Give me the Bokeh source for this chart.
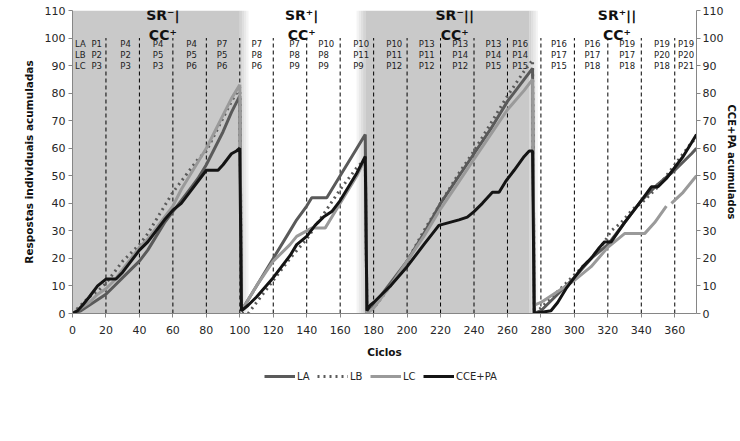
import numpy as np
from bokeh.plotting import figure
from bokeh.layouts import column
from bokeh.models import Range1d, LinearAxis, Legend, LegendItem, FixedTicker
from bokeh.core.properties import value
from bokeh.embed import file_html
from bokeh.resources import INLINE

nan = float("nan")

# ---------------- data ----------------
la_x = [0, 5, 10, 15, 20, 25, 30, 35, 40, 45, 50, 55, 60, 65, 70, 75, 80, 85, 90, 95, 100,
        101, 110, 120, 130, 134, 140, 143, 152, 160, 170, 175,
        176, 180, 190, 200, 210, 220, 230, 240, 250, 260, 270, 275,
        276, 280, 290, 300, 310, 320, 330, 340, 350, 360, 370, 373]
la_y = [0, 1, 3, 5, 7, 10, 13, 16, 19, 23, 28, 33, 37, 41, 45, 49, 54, 60, 66, 73, 79,
        1, 10, 20, 30, 34, 39, 42, 42, 50, 60, 65,
        0, 3, 11, 19, 29, 40, 49, 58, 67, 77, 85, 89,
        0, 1, 7, 13, 20, 25, 33, 41, 47, 52, 58, 60]

lb_x = [0, 5, 10, 15, 20, 25, 30, 35, 40, 45, 50, 55, 60, 65, 70, 75, 80, 85, 90, 95, 100,
        101, 105, 110, 120, 130, 140, 150, 160, 170, 175,
        176, 180, 190, 200, 210, 220, 230, 240, 250, 260, 270, 275,
        276, 280, 290, 300, 310, 318, 322, 328, 335, 340, 345, 350, 360, 370, 373]
lb_y = [0, 3, 6, 8, 11, 15, 19, 22, 25, 29, 34, 39, 44, 48, 52, 56, 59, 65, 71, 77, 82,
        0, 0, 4, 12, 20, 27, 36, 45, 53, 56,
        0, 2, 10, 19, 30, 40, 50, 59, 69, 79, 88, 92,
        0, 2, 8, 14, 20, 26, 30, 33, 38, 40, 43, 46, 54, 62, 64]

lc_x = [0, 5, 10, 15, 20, 25, 30, 35, 40, 45, 50, 55, 60, 65, 70, 75, 80, 85, 90, 95, 100,
        101, 110, 120, 130, 134, 140, 143, 151, 160, 170, 174, 175,
        176, 180, 190, 200, 210, 220, 230, 240, 250, 260, 270, 275,
        276, 280, 290, 300, 310, 320, 330, 342, 348, 355, 356, 358, 365, 373]
lc_y = [0, 2, 4, 7, 9, 12, 16, 20, 24, 27, 31, 35, 39, 45, 50, 55, 60, 66, 72, 78, 83,
        1, 10, 19, 25, 28, 30, 31, 31, 40, 50, 55, 56,
        0, 2, 10, 19, 28, 38, 47, 56, 65, 74, 81, 85,
        3, 4, 8, 12, 17, 24, 29, 29, 33, 39, nan, 40, 44, 50]

cce_x = [0, 3, 6, 10, 15, 20, 26, 30, 35, 40, 45, 50, 55, 60, 65, 70, 75, 80, 87, 90, 95, 98, 100,
         101, 105, 110, 120, 130, 134, 140, 145, 150, 155, 160, 165, 170, 175,
         176, 178, 180, 190, 200, 210, 219, 225, 231, 236, 240, 245, 251, 255, 259, 264, 270, 273, 275,
         276, 286, 290, 295, 300, 305, 310, 315, 318, 322, 330, 335, 340, 346, 350, 355, 360, 365, 370, 373]
cce_y = [0, 1, 3, 6, 10, 12.5, 12.5, 15, 19, 23, 26, 30, 34, 37.5, 40, 44, 48, 52, 52, 54, 58, 59, 60,
         1, 3, 6, 13, 21, 25, 28, 32, 35, 37, 41, 46, 51, 57,
         1, 3, 4, 10, 17, 25, 32, 33, 34, 35, 37, 40, 44, 44, 48, 52, 57, 59, 59,
         0, 1, 4, 9, 13, 17, 20, 24, 26, 26, 33, 37, 41, 46, 46, 49, 53, 57, 62, 65]

dash_x = list(range(20, 361, 20))

phase_labels = ["SR\u207b|", "SR\u207a|", "SR\u207b||", "SR\u207a||"]
cc_label = "CC\u207a"

col_row1 = ["LA", "P1", "P4", "P4", "P4", "P7", "P7", "P7", "P10", "P10",
            "P10", "P13", "P13", "P13", "P16", "P16", "P16", "P19", "P19", "P19"]
col_row2 = ["LB", "P2", "P2", "P5", "P5", "P5", "P8", "P8", "P8", "P11",
            "P11", "P11", "P14", "P14", "P14", "P17", "P17", "P17", "P20", "P20"]
col_row3 = ["LC", "P3", "P3", "P3", "P6", "P6", "P6", "P9", "P9", "P9",
            "P12", "P12", "P12", "P15", "P15", "P15", "P18", "P18", "P18", "P21"]

series_names = ["LA", "LB", "LC", "CCE+PA"]
series_x = [la_x, lb_x, lc_x, cce_x]
series_y = [la_y, lb_y, lc_y, cce_y]

# ---------------- layout constants ----------------
col_pos = [1.5, 11.3, 28.6, 48, 68, 86.3, 107, 129.6, 146.9, 167.8,
           187.6, 207, 227, 246.9, 262.8, 286, 306, 326.8, 347.6, 362]
title_pos = [54, 137, 228.5, 325.5]

GRAY_BG = "#c9c9c9"
STYLES = [dict(line_color="#5a5a5a", line_width=3),
          dict(line_color="#5a5a5a", line_width=3, line_dash="dotted"),
          dict(line_color="#9a9a9a", line_width=3),
          dict(line_color="#141414", line_width=3)]

p = figure(width=740, height=365, x_range=Range1d(0, 373), y_range=Range1d(0, 110),
           output_backend="svg", toolbar_location=None,
           min_border_left=72, min_border_right=43, min_border_top=10, min_border_bottom=52)
p.extra_y_ranges = {"right": Range1d(0, 110)}
p.xgrid.visible = False
p.ygrid.visible = False
p.outline_line_color = None
p.background_fill_color = "white"

# shaded phases
p.quad(left=[0, 175], right=[100, 273], bottom=0, top=110, fill_color=GRAY_BG, line_color=None)
fade = [0.8, 0.6, 0.4, 0.2]
for i, a in enumerate(fade):
    w = 1.3
    p.quad(left=[100 + i * w, 175 - (i + 1) * w, 273 + i * w],
           right=[100 + (i + 1) * w, 175 - i * w, 273 + (i + 1) * w],
           bottom=0, top=110, fill_color=GRAY_BG, fill_alpha=a, line_color=None)

# dashed separators
p.segment(x0=dash_x, y0=0, x1=dash_x, y1=100, line_color="black", line_width=1, line_dash="4 3")

# period labels
FONT = value("DejaVu Sans")
for ys, txt in zip([97.8, 93.8, 89.7], [col_row1, col_row2, col_row3]):
    p.text(x=col_pos, y=[ys] * len(col_pos), text=txt, text_font=FONT, text_font_size="8.5px",
           text_color="#222222", text_baseline="middle", text_align="left")

p.text(x=title_pos, y=[108.5] * 4, text=phase_labels, text_font=FONT, text_font_size="14px",
       text_font_style="bold", text_color="#111111", text_baseline="middle", text_align="center")
p.text(x=title_pos, y=[101] * 4, text=[cc_label] * 4, text_font=FONT, text_font_size="14px",
       text_font_style="bold", text_color="#111111", text_baseline="middle", text_align="center")

# series
p.line(la_x, la_y, **STYLES[0])
p.line(lb_x, lb_y, **STYLES[1])
p.line(lc_x, lc_y, **STYLES[2])
p.line(cce_x, cce_y, y_range_name="right", **STYLES[3])

# axes
right_axis = LinearAxis(y_range_name="right", axis_label="CCE+PA acumulados")
p.add_layout(right_axis, "right")

p.xaxis.ticker = FixedTicker(ticks=list(range(0, 361, 20)))
for ax in p.yaxis:
    ax.ticker = FixedTicker(ticks=list(range(0, 111, 10)))
p.yaxis[0].axis_label = "Respostas individuais acumuladas"
p.xaxis.axis_label = "Ciclos"

for ax in list(p.xaxis) + list(p.yaxis):
    ax.axis_line_color = "#868686"
    ax.major_tick_line_color = "#868686"
    ax.major_tick_out = 4
    ax.major_tick_in = 0
    ax.minor_tick_line_color = None
    ax.major_label_text_font = "DejaVu Sans"
    ax.major_label_text_font_size = "11px"
    ax.major_label_text_color = "#262626"
    ax.axis_label_text_font = "DejaVu Sans"
    ax.axis_label_text_font_size = "10.5px"
    ax.axis_label_text_font_style = "bold"
    ax.axis_label_text_color = "#111111"
    ax.major_label_standoff = 3
p.xaxis.major_label_standoff = 8
p.xaxis.axis_label_standoff = 9
p.yaxis[0].axis_label_standoff = 7
right_axis.major_label_standoff = 2
right_axis.axis_label_standoff = 0
right_axis.axis_label_text_font_size = "10px"

# legend strip below the chart (series drawn out of view, only legend visible)
pl = figure(width=740, height=30, x_range=Range1d(1000, 1001), y_range=Range1d(1000, 1001),
            output_backend="svg", toolbar_location=None, min_border=0)
pl.axis.visible = False
pl.grid.visible = False
pl.outline_line_color = None
items = []
for name, sx, sy, st in zip(series_names, series_x, series_y, STYLES):
    r = pl.line(sx, sy, **st)
    items.append(LegendItem(label=name, renderers=[r]))
legend = Legend(items=items, orientation="horizontal", location=(192, 13))
legend.glyph_width = 31
legend.glyph_height = 12
legend.label_standoff = 2
legend.spacing = 0
legend.padding = 0
legend.margin = 0
legend.border_line_color = None
legend.background_fill_alpha = 0
legend.label_text_font = "DejaVu Sans"
legend.label_text_font_size = "10px"
legend.label_text_color = "#262626"
pl.add_layout(legend, "center")

open("out.html", "w").write(file_html(column(p, pl, spacing=0), INLINE))
